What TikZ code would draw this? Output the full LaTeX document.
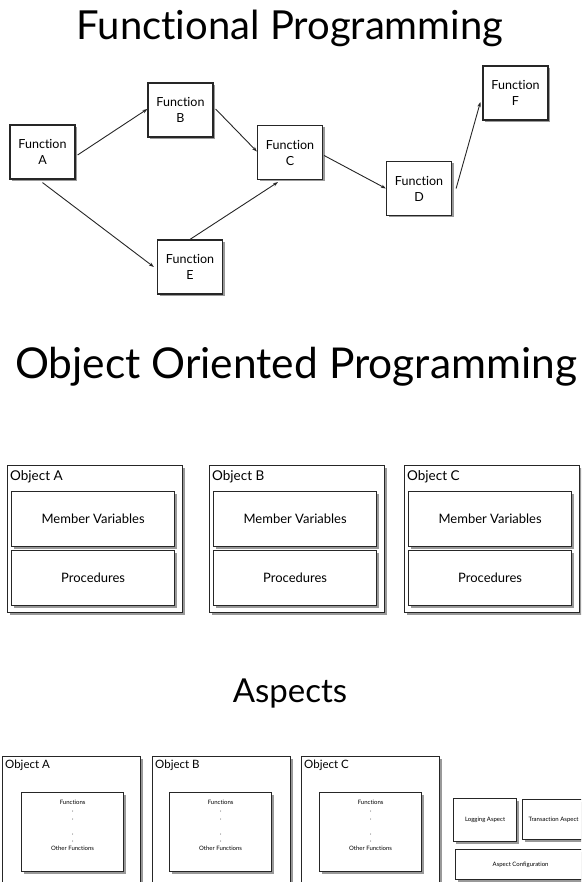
\documentclass[tikz,border=0pt]{standalone}
\usepackage{fontspec}
\setmainfont{Lato}[Ligatures=NoCommon]
\usetikzlibrary{shadows,arrows.meta}
\begin{document}
\begin{tikzpicture}[x=1pt,y=-1pt,
  shadowed/.style={draw=black!85, line width=1.2pt, fill=white,
    drop shadow={shadow xshift=2pt, shadow yshift=-2pt, opacity=0.4, fill=black}},
  funcbox/.style={shadowed, inner sep=0pt, align=center,
    minimum width=65pt, minimum height=54pt,
    font=\fontsize{12.5}{16}\selectfont},
  title/.style={font=\fontsize{40}{42}\selectfont, anchor=base, inner sep=0pt},
  flow/.style={draw=black!85, line width=0.9pt, -{Stealth[length=5pt,width=3.5pt]}},
  objlabel/.style={anchor=north west, inner sep=0pt, font=\fontsize{13.5}{15}\selectfont},
  memberbox/.style={shadowed, inner sep=0pt, align=center, font=\fontsize{13}{15}\selectfont},
  tinybox/.style={shadowed, inner sep=0pt, align=center, font=\fontsize{6}{7}\selectfont},
  tinytext/.style={font=\fontsize{6}{7}\selectfont, inner sep=0pt}
]
\useasboundingbox (0,0) rectangle (581,882);
\clip (0,0) rectangle (581,882);

% ---------- Functional Programming ----------
\node[title] (t1) at (290,40) {Functional Programming};

\node[funcbox] (A) at (42.5,152) {Function\\A};
\node[funcbox] (B) at (180.5,110) {Function\\B};
\node[funcbox] (C) at (290,152.5) {Function\\C};
\node[funcbox] (E) at (190,267) {Function\\E};
\node[funcbox] (D) at (419,188.5) {Function\\D};
\node[funcbox] (F) at (515.5,93) {Function\\F};

\draw[flow] ([yshift=-3pt,xshift=2pt]A.east) -- ([yshift=1pt]B.west);
\draw[flow] ([yshift=1pt,xshift=2pt]B.east) -- ([yshift=1pt]C.west);
\draw[flow] ([yshift=-3pt]A.south) -- ([xshift=-3pt]E.west);
\draw[flow] (E.north) -- ([xshift=-12pt,yshift=-2pt]C.south);
\draw[flow] ([yshift=-3pt,xshift=1pt]C.east) -- (D.west);
\draw[flow] ([xshift=4pt]D.east) -- ([xshift=-2pt,yshift=-9pt]F.west);

% ---------- Object Oriented Programming ----------
\node[title, font=\fontsize{42.5}{44}\selectfont] (t2) at (296,378) {Object Oriented Programming};

\foreach \n/\lab/\x in {oa/A/7, ob/B/209, oc/C/404}{
  \node[shadowed, inner sep=0pt, minimum width=175pt, minimum height=147pt, anchor=north west] (\n) at (\x,465) {};
  \node[objlabel] (\n l) at (\x+3,470) {Object \lab};
  \node[memberbox, minimum width=163pt, minimum height=55pt, anchor=north west] (\n m) at (\x+4,491) {Member Variables};
  \node[memberbox, minimum width=163pt, minimum height=55pt, anchor=north west] (\n p) at (\x+4,550) {Procedures};
}

% ---------- Aspects ----------
\node[title, font=\fontsize{33}{35}\selectfont] (t3) at (290,702) {Aspects};

\foreach \n/\lab/\x/\ix in {aa/A/2/21, ab/B/152/169, ac/C/301/319}{
  \node[shadowed, inner sep=0pt, minimum width=138pt, minimum height=140pt, anchor=north west] (\n) at (\x,756) {};
  \node[objlabel, font=\fontsize{11.5}{13}\selectfont] (\n l) at (\x+3,760) {Object \lab};
  \node[tinybox, minimum width=102pt, minimum height=79pt, anchor=north west] (\n f) at (\ix,792) {};
  \node[tinytext] (\n t1) at (\n f.north |- 0,802) {Functions};
  \node[tinytext] (\n t2) at (\n f.north |- 0,848) {Other Functions};
  \foreach \d in {811,819,834,841}{
    \fill[black!70] (\n f.north |- 0,\d) circle (0.5pt);
  }
}

\node[tinybox, minimum width=63pt, minimum height=43pt, anchor=north west] (log) at (453,798) {Logging Aspect};
\node[tinybox, minimum width=62pt, minimum height=40pt, anchor=north west] (tra) at (522,799) {Transaction Aspect};
\node[tinybox, minimum width=130pt, minimum height=30pt, anchor=north west] (cfg) at (455,849) {Aspect Configuration};
\end{tikzpicture}
\end{document}
